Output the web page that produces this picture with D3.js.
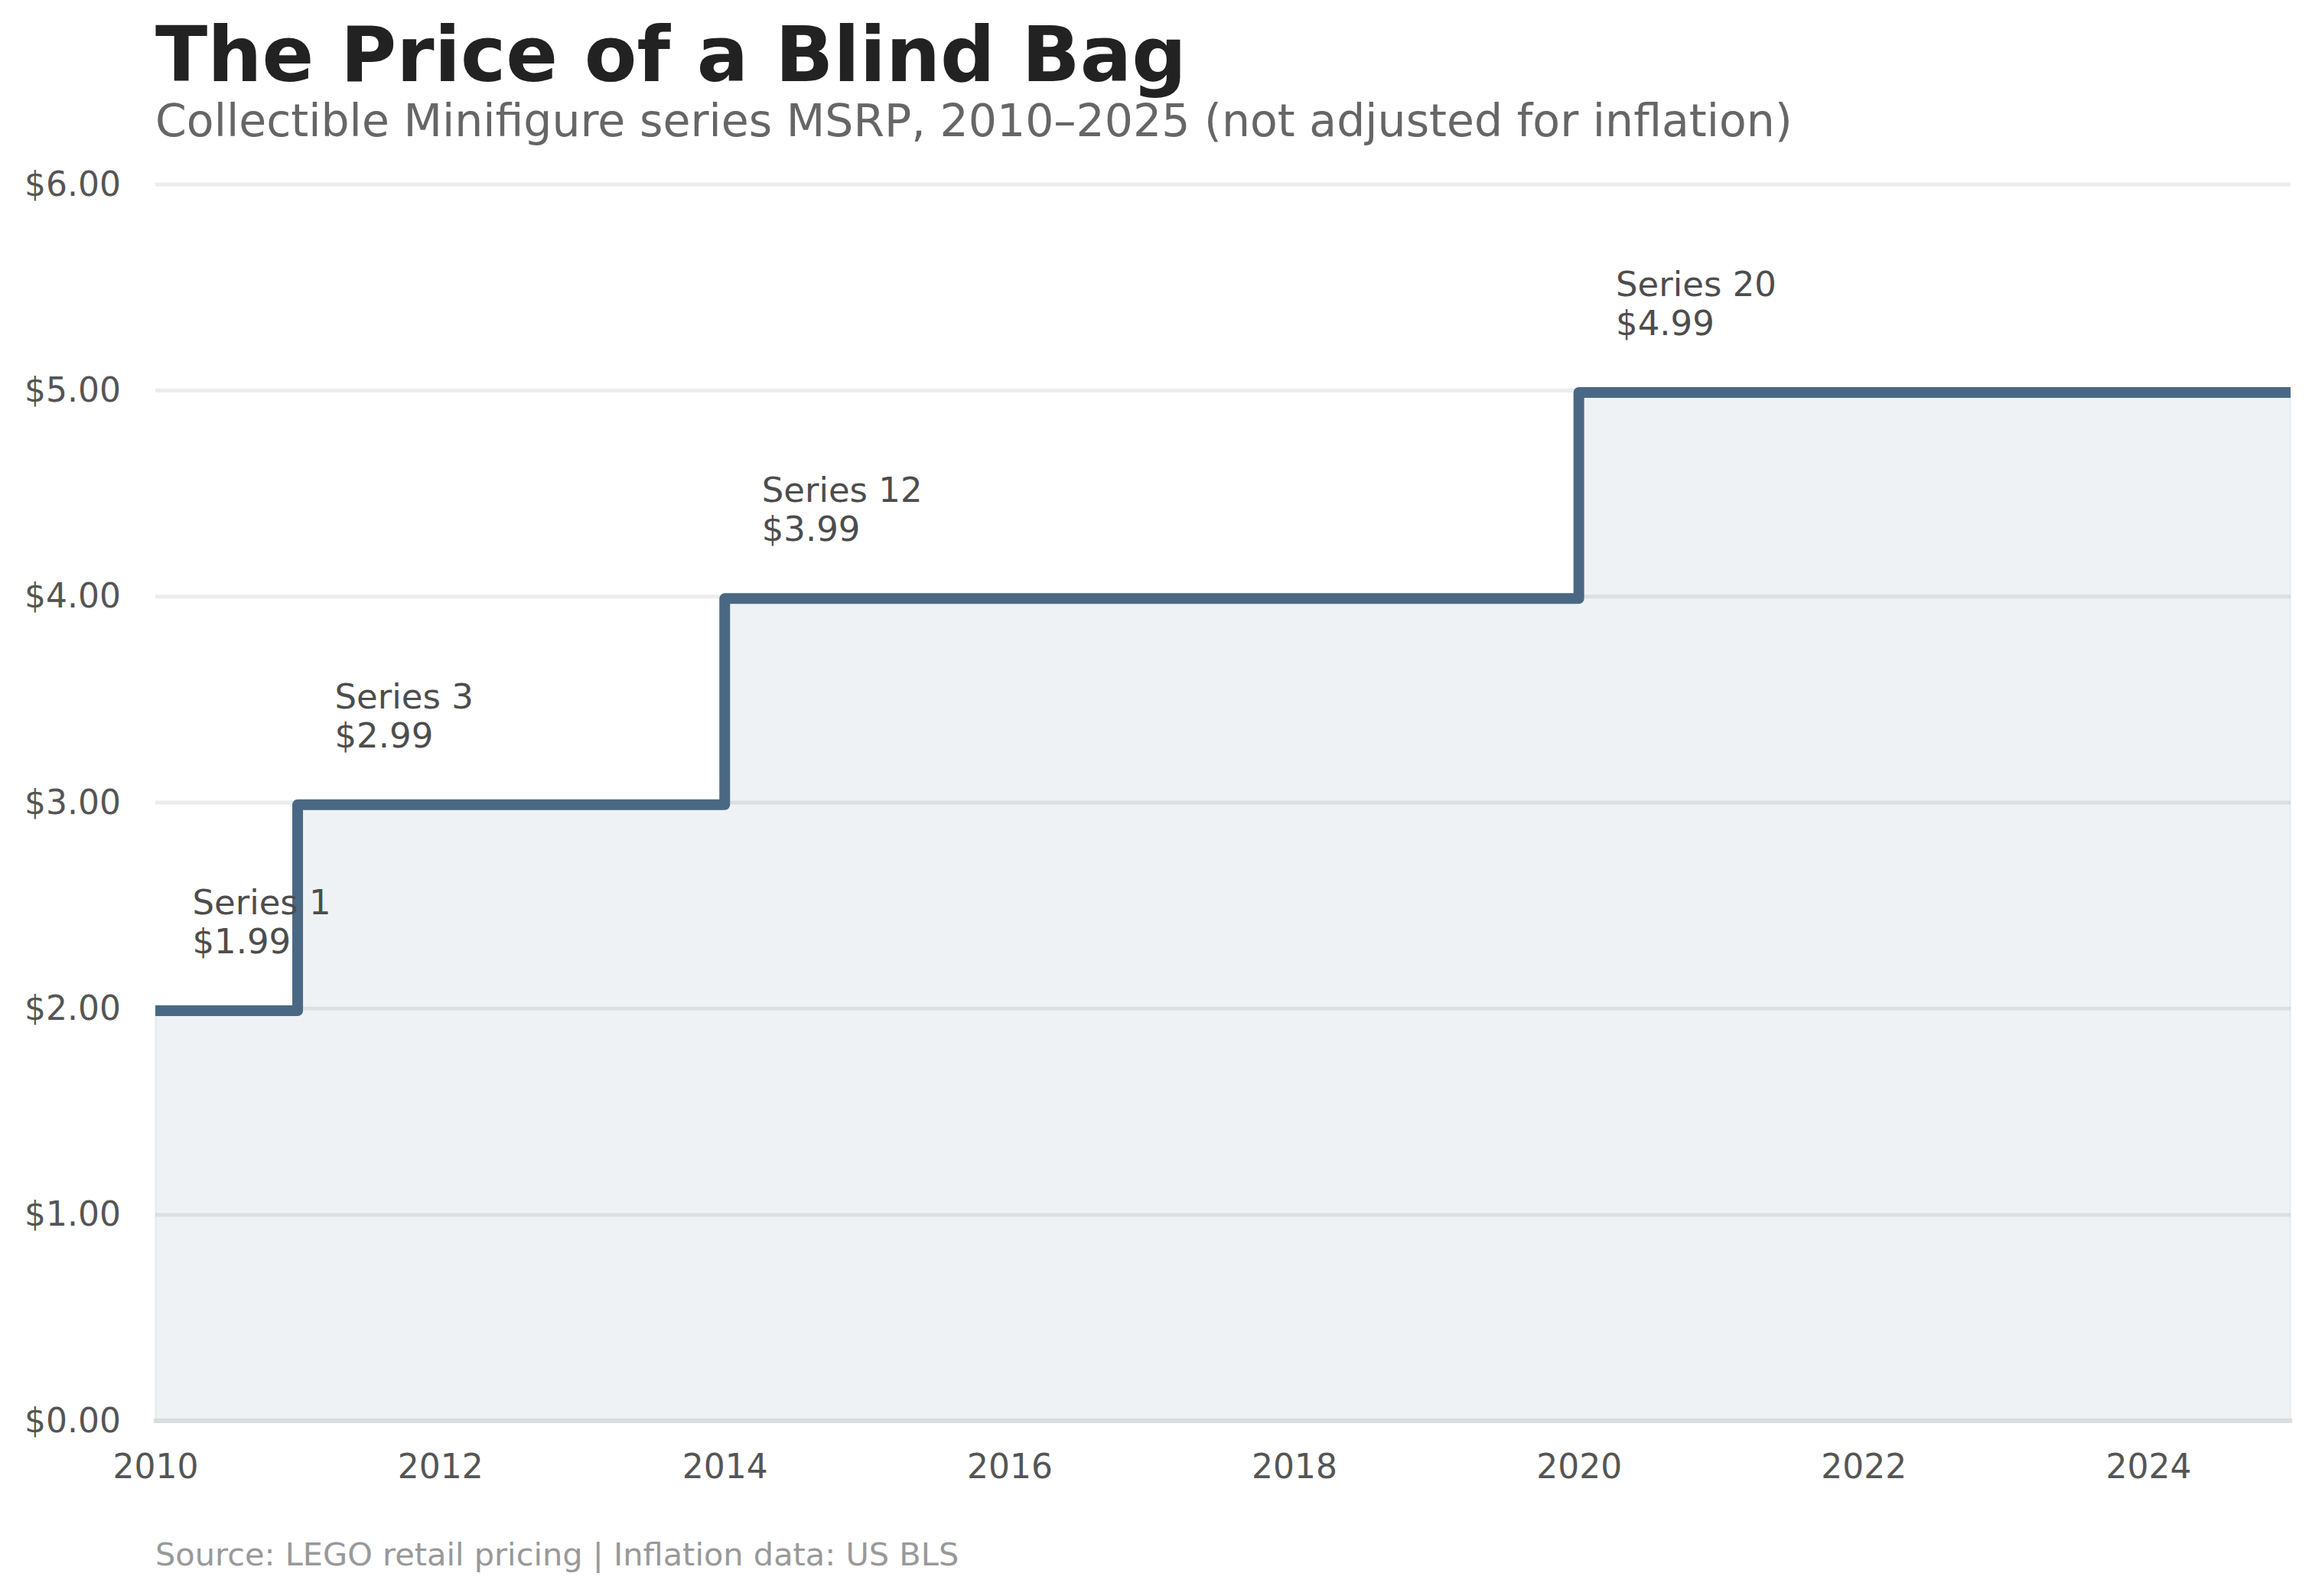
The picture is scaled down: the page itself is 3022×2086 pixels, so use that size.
<!DOCTYPE html>
<html>
<head>
<meta charset="utf-8">
<title>The Price of a Blind Bag</title>
<script src="https://d3js.org/d3.v7.min.js"></script>
<style>
  body { margin: 0; background: #fff; }
  svg text { font-family: "DejaVu Sans", sans-serif; }
</style>
</head>
<body>
<div id="chart"></div>
<script>
// step points: price holds from each year until the next
const years = [2010, 2011, 2014, 2020, 2025];
const prices = [1.99, 2.99, 3.99, 4.99, 4.99];
const seriesNames = ["Series 1", "Series 3", "Series 12", "Series 20"];
const yTicks = [0, 1, 2, 3, 4, 5, 6];
const xTicks = [2010, 2012, 2014, 2016, 2018, 2020, 2022, 2024];

const W = 3022, H = 2086;
const margin = { top: 241, right: 28, bottom: 229, left: 203 };
const lineColor = "#4a6884";

const svg = d3.select("#chart").append("svg")
  .attr("width", W).attr("height", H);

const x = d3.scaleLinear().domain([2010, 2025]).range([margin.left, W - margin.right]);
const y = d3.scaleLinear().domain([0, 6]).range([H - margin.bottom, margin.top]);

const pts = years.map((yr, i) => ({ year: yr, price: prices[i] }));

// grid
svg.append("g").selectAll("line")
  .data(yTicks.filter(d => d > 0))
  .join("line")
  .attr("x1", x(2010)).attr("x2", x(2025))
  .attr("y1", d => y(d)).attr("y2", d => y(d))
  .attr("stroke", "#ececec").attr("stroke-width", 5);

// area under step
const area = d3.area().curve(d3.curveStepAfter)
  .x(d => x(d.year)).y0(y(0)).y1(d => y(d.price));
svg.append("path").datum(pts)
  .attr("d", area)
  .attr("fill", lineColor).attr("fill-opacity", 0.085)
  .attr("stroke", lineColor).attr("stroke-opacity", 0.06).attr("stroke-width", 3);

// bottom spine
svg.append("line")
  .attr("x1", x(2010) - 2).attr("x2", x(2025) + 2)
  .attr("y1", y(0)).attr("y2", y(0))
  .attr("stroke", "#dcdcdc").attr("stroke-width", 6);

// step line
const line = d3.line().curve(d3.curveStepAfter)
  .x(d => x(d.year)).y(d => y(d.price));
svg.append("path").datum(pts)
  .attr("d", line)
  .attr("fill", "none")
  .attr("stroke", lineColor).attr("stroke-width", 14)
  .attr("stroke-linejoin", "round");

// y axis labels
const yAxis = svg.append("g")
  .attr("transform", `translate(${margin.left - 45},0)`)
  .call(d3.axisLeft(y).tickValues(yTicks).tickSize(0).tickPadding(0)
    .tickFormat(d => "$" + d3.format(".2f")(d)));
yAxis.select(".domain").remove();
yAxis.selectAll("text")
  .attr("font-size", 44).attr("fill", "#555")
  .attr("font-family", "DejaVu Sans");

// x axis labels
const xAxis = svg.append("g")
  .attr("transform", `translate(0,${y(0)})`)
  .call(d3.axisBottom(x).tickValues(xTicks).tickSize(0).tickPadding(44)
    .tickFormat(d3.format("d")));
xAxis.select(".domain").remove();
xAxis.selectAll("text")
  .attr("font-size", 44).attr("fill", "#555")
  .attr("font-family", "DejaVu Sans");

// annotations
const ann = svg.append("g").selectAll("text")
  .data(seriesNames.map((s, i) => ({ name: s, year: years[i], price: prices[i] })))
  .join("text")
  .attr("x", d => x(d.year + 0.26))
  .attr("y", d => y(d.price) - 126)
  .attr("font-size", 45).attr("fill", "#4d4d4d");
ann.append("tspan").text(d => d.name);
ann.append("tspan")
  .attr("x", d => x(d.year + 0.26)).attr("dy", 51)
  .text(d => "$" + d.price.toFixed(2));

// title block
svg.append("text")
  .attr("x", margin.left).attr("y", 106)
  .attr("font-size", 100).attr("font-weight", "bold").attr("fill", "#222")
  .text("The Price of a Blind Bag");
svg.append("text")
  .attr("x", margin.left).attr("y", 178)
  .attr("font-size", 58.5).attr("fill", "#666")
  .text("Collectible Minifigure series MSRP, 2010\u20132025 (not adjusted for inflation)");

svg.append("text")
  .attr("x", margin.left).attr("y", 2046)
  .attr("font-size", 41.5).attr("fill", "#999")
  .text("Source: LEGO retail pricing | Inflation data: US BLS");
</script>
</body>
</html>
